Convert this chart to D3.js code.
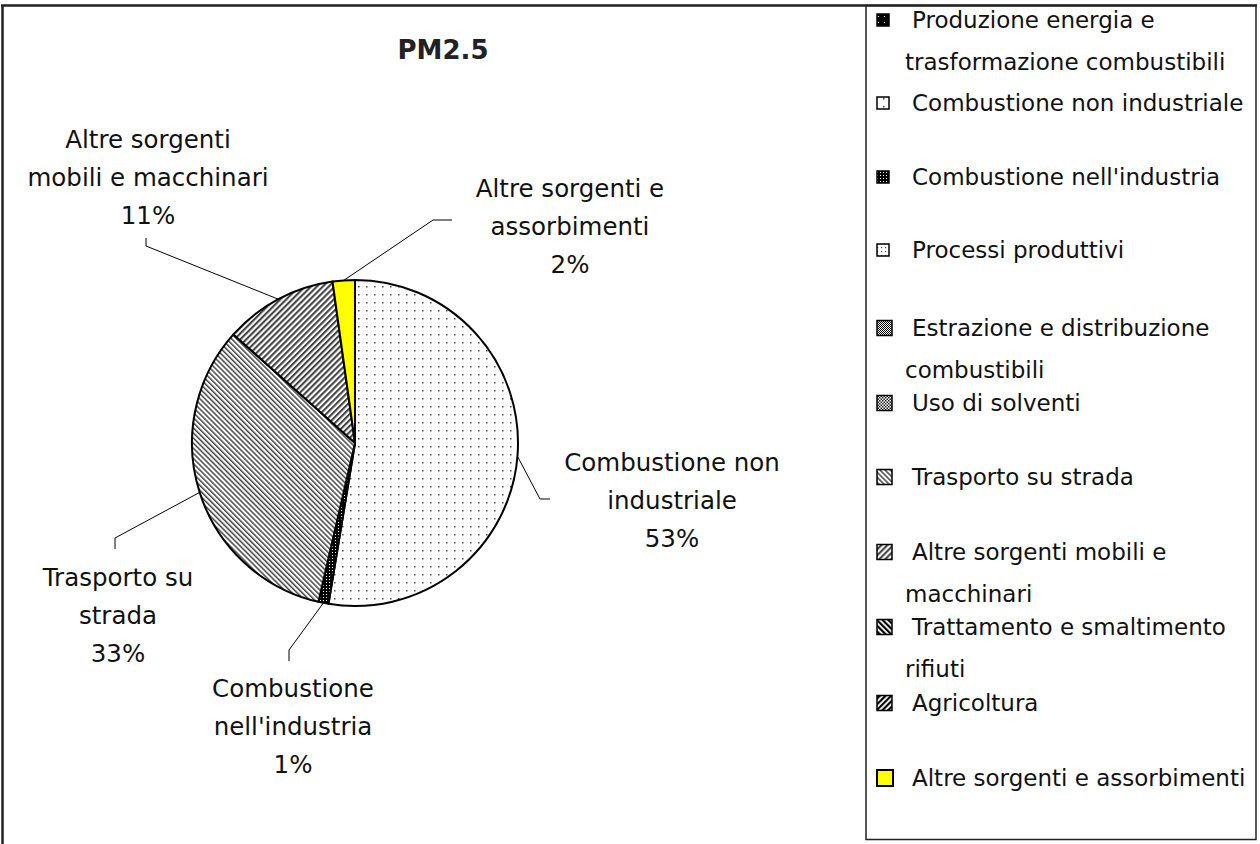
<!DOCTYPE html>
<html>
<head>
<meta charset="utf-8">
<script src="https://cdn.jsdelivr.net/npm/d3@7/dist/d3.min.js"></script>
<style>
  body { margin: 0; background: #fff; }
  svg { display: block; }
</style>
</head>
<body>
<svg id="chart" width="1260" height="844"></svg>
<script>
// legend categories (in legend order) and their share of PM2.5 (%)
var categories = [
  ['Produzione energia e', 'trasformazione combustibili'],
  ['Combustione non industriale'],
  ["Combustione nell'industria"],
  ['Processi produttivi'],
  ['Estrazione e distribuzione', 'combustibili'],
  ['Uso di solventi'],
  ['Trasporto su strada'],
  ['Altre sorgenti mobili e', 'macchinari'],
  ['Trattamento e smaltimento', 'rifiuti'],
  ['Agricoltura'],
  ['Altre sorgenti e assorbimenti']
];
var values = [0, 52.6, 1.0, 0, 0, 0, 33.0, 11.2, 0, 0, 2.2];

// text of the labels placed around the pie
var sliceLabels = [
  null,
  ['Combustione non', 'industriale'],
  ['Combustione', "nell'industria"],
  null, null, null,
  ['Trasporto su', 'strada'],
  ['Altre sorgenti', 'mobili e macchinari'],
  null, null,
  ['Altre sorgenti e', 'assorbimenti']
];

var fills = ['url(#p_energia)', 'url(#p_dots)', 'url(#p_combind)', 'url(#p_processi)',
  'url(#p_estraz)', 'url(#p_solventi)', 'url(#p_trasporto)', 'url(#p_altremob)',
  'url(#p_tratt)', 'url(#p_agri)', '#ffff00'];

var font = '"DejaVu Sans", Verdana, sans-serif';
var cx = 355, cy = 443, radius = 163;

// hand placed label boxes: centre x, centre y of first line, elbow and tick end of leader
var labelLayout = {
  1: {x: 672, y: 462, elbow: [540, 499], end: [550, 499]},
  2: {x: 293, y: 688, elbow: [289, 650], end: [289, 661]},
  6: {x: 118, y: 577, elbow: [115, 538], end: [115, 549]},
  7: {x: 148, y: 139, elbow: [146, 246], end: [146, 238]},
  10: {x: 570, y: 188, elbow: [433, 220], end: [452, 220]}
};
var legendRows = [20, 103, 177, 250, 328, 403, 477, 552, 627, 703, 778];
var legendIcon = [12, 12, 12, 12, 15, 15, 15, 15, 15, 15, 16];

var svg = d3.select('#chart');
var defs = svg.append('defs');

function pat(id, w, h, bg, draw, rot) {
  var p = defs.append('pattern')
    .attr('id', id)
    .attr('patternUnits', 'userSpaceOnUse')
    .attr('width', w)
    .attr('height', h);
  if (rot) p.attr('patternTransform', 'rotate(' + rot + ')');
  p.append('rect').attr('width', w).attr('height', h).attr('fill', bg);
  draw(p);
}
function dot(p, x, y, s, c) {
  p.append('rect').attr('x', x).attr('y', y).attr('width', s).attr('height', s).attr('fill', c);
}

pat('p_energia', 6, 6, '#000', function(p){ dot(p, 2, 2, 1, '#fff'); });
pat('p_dots', 8, 8, '#fff', function(p){ dot(p, 3, 3, 1.5, '#444'); });
pat('p_combind', 3, 3, '#000', function(p){ dot(p, 1, 1, 1, '#fff'); });
pat('p_processi', 4, 4, '#fff', function(p){ dot(p, 1, 1, 1.2, '#555'); });
pat('p_estraz', 2, 2, '#fff', function(p){ dot(p, 0, 0, 1, '#000'); dot(p, 1, 1, 1, '#000'); });
pat('p_solventi', 3, 3, '#fff', function(p){ dot(p, 0, 0, 1.5, '#222'); dot(p, 1.5, 1.5, 1.5, '#222'); });
pat('p_trasporto', 3.6, 3.6, '#fff', function(p){
  p.append('rect').attr('width', 1.5).attr('height', 3.6).attr('fill', '#444');
}, -45);
pat('p_altremob', 4.2, 4.2, '#fff', function(p){
  p.append('rect').attr('width', 2.1).attr('height', 4.2).attr('fill', '#444');
}, 45);
pat('p_tratt', 4, 4, '#fff', function(p){
  p.append('rect').attr('width', 2.2).attr('height', 4).attr('fill', '#000');
}, -45);
pat('p_agri', 4, 4, '#fff', function(p){
  p.append('rect').attr('width', 2.2).attr('height', 4).attr('fill', '#000');
}, 45);

// background and frame
svg.append('rect').attr('width', 1260).attr('height', 844).attr('fill', '#fff');
svg.append('line')
  .attr('x1', 1).attr('y1', 5.5).attr('x2', 1257).attr('y2', 5.5)
  .attr('stroke', '#222').attr('stroke-width', 2.5);
svg.append('line')
  .attr('x1', 2.5).attr('y1', 5).attr('x2', 2.5).attr('y2', 844)
  .attr('stroke', '#222').attr('stroke-width', 2.5);

// title
svg.append('text')
  .text('PM2.5')
  .attr('x', 443).attr('y', 50)
  .attr('dy', '0.36em')
  .style('font-family', font)
  .style('font-size', '26px')
  .style('font-weight', 'bold')
  .style('text-anchor', 'middle')
  .attr('fill', '#222');

///////////////////////////
// Pie
///////////////////////////
var pie = d3.pie().sort(null).value(function(d){ return d.value; });
var data = values.map(function(v, i){ return {value: v, i: i}; });
var arcs = pie(data).filter(function(d){ return d.data.value > 0; });

var arc = d3.arc().innerRadius(0).outerRadius(radius);
var edgeArc = d3.arc().innerRadius(radius).outerRadius(radius);

var pieG = svg.append('g').attr('transform', 'translate(' + cx + ',' + cy + ')');

pieG.selectAll('path.slice')
  .data(arcs)
  .enter()
  .append('path')
  .classed('slice', true)
  .attr('d', arc)
  .attr('fill', function(d){ return fills[d.data.i]; })
  .attr('stroke', '#000')
  .attr('stroke-width', 2)
  .attr('stroke-linejoin', 'round');

// leader lines
var pct = function(v){ return Math.round(v) + '%'; };
var total = d3.sum(values);

var labelled = arcs.filter(function(d){ return labelLayout[d.data.i]; });

svg.selectAll('polyline.leader')
  .data(labelled)
  .enter()
  .append('polyline')
  .classed('leader', true)
  .attr('points', function(d){
    var L = labelLayout[d.data.i];
    var c = edgeArc.centroid(d);
    return [[c[0] + cx, c[1] + cy], L.elbow, L.end].map(function(p){ return p.join(','); }).join(' ');
  })
  .attr('fill', 'none')
  .attr('stroke', '#000')
  .attr('stroke-width', 1);

var labelG = svg.selectAll('text.slice-label')
  .data(labelled)
  .enter()
  .append('text')
  .classed('slice-label', true)
  .attr('x', function(d){ return labelLayout[d.data.i].x; })
  .attr('y', function(d){ return labelLayout[d.data.i].y; })
  .style('font-family', font)
  .style('font-size', '24.5px')
  .style('text-anchor', 'middle')
  .attr('fill', '#111');

labelG.each(function(d){
  var L = labelLayout[d.data.i];
  var lines = sliceLabels[d.data.i].concat([pct(d.data.value / total * 100)]);
  d3.select(this).selectAll('tspan')
    .data(lines)
    .enter()
    .append('tspan')
    .attr('x', L.x)
    .attr('y', function(t, k){ return L.y + k * 38; })
    .attr('dy', '0.36em')
    .text(function(t){ return t; });
});

///////////////////////////
// Legend
///////////////////////////
svg.append('rect')
  .attr('x', 866).attr('y', 5.5)
  .attr('width', 390).attr('height', 834)
  .attr('fill', 'none')
  .attr('stroke', '#222')
  .attr('stroke-width', 1.5);

var legend = svg.selectAll('g.legend-item')
  .data(categories)
  .enter()
  .append('g')
  .classed('legend-item', true)
  .attr('transform', function(d, i){ return 'translate(0,' + legendRows[i] + ')'; });

legend.append('rect')
  .attr('x', 877)
  .attr('y', function(d, i){ return -legendIcon[i] / 2; })
  .attr('width', function(d, i){ return legendIcon[i]; })
  .attr('height', function(d, i){ return legendIcon[i]; })
  .attr('fill', function(d, i){ return fills[i]; })
  .attr('stroke', '#000')
  .attr('stroke-width', function(d, i){ return i === 10 ? 2 : 1.5; });

legend.append('text')
  .style('font-family', font)
  .style('font-size', '23px')
  .attr('fill', '#111')
  .each(function(d){
    d3.select(this).selectAll('tspan')
      .data(d)
      .enter()
      .append('tspan')
      .attr('x', function(t, k){ return k === 0 ? 912 : 905; })
      .attr('y', function(t, k){ return k * 42; })
      .attr('dy', '0.36em')
      .text(function(t){ return t; });
  });
</script>
</body>
</html>
